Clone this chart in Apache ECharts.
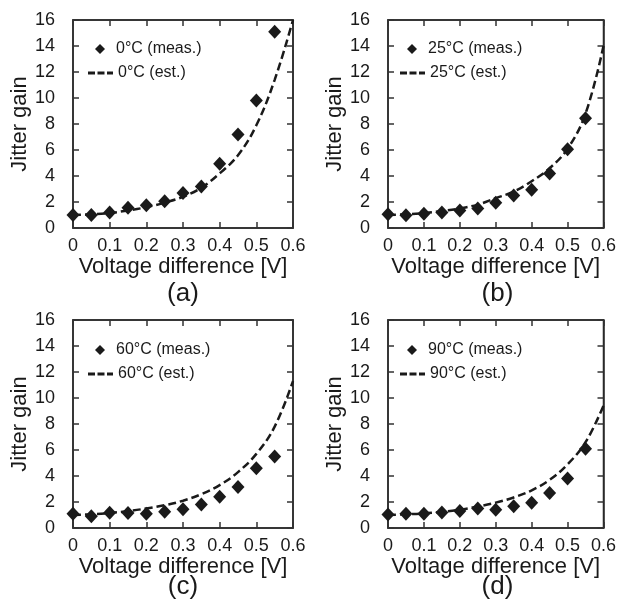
<!DOCTYPE html>
<html>
<head>
<meta charset="utf-8">
<script src="https://cdn.jsdelivr.net/npm/echarts@6/dist/echarts.min.js"></script>
<style>
  html, body { margin: 0; padding: 0; background: #fff; }
  #chart { width: 619px; height: 606px; }
</style>
</head>
<body>
<div id="chart"></div>
<script>
// voltage difference [V]
const measVoltages = [0, 0.05, 0.1, 0.15, 0.2, 0.25, 0.3, 0.35, 0.4, 0.45, 0.5, 0.55];
const estVoltages = [0, 0.05, 0.1, 0.15, 0.2, 0.25, 0.3, 0.35, 0.4, 0.45, 0.5, 0.55, 0.6];

// jitter gain
const meas0 = [1.0, 1.0, 1.2, 1.55, 1.75, 2.05, 2.7, 3.2, 4.95, 7.2, 9.8, 15.1];
const est0 = [1.0, 1.05, 1.15, 1.35, 1.6, 1.95, 2.4, 3.1, 4.2, 5.6, 7.9, 11.4, 16.0];
const meas25 = [1.05, 0.98, 1.1, 1.2, 1.35, 1.5, 1.95, 2.5, 2.95, 4.2, 6.05, 8.45];
const est25 = [1.0, 1.05, 1.15, 1.3, 1.5, 1.8, 2.3, 2.8, 3.6, 4.6, 6.1, 8.8, 14.0];
const meas60 = [1.1, 0.9, 1.18, 1.15, 1.1, 1.25, 1.45, 1.8, 2.4, 3.15, 4.6, 5.5];
const est60 = [1.0, 1.05, 1.15, 1.3, 1.5, 1.75, 2.1, 2.6, 3.3, 4.3, 5.7, 7.8, 11.3];
const meas90 = [1.03, 1.1, 1.1, 1.2, 1.3, 1.5, 1.4, 1.67, 1.95, 2.7, 3.8, 6.1];
const est90 = [1.0, 1.05, 1.12, 1.25, 1.4, 1.65, 1.95, 2.35, 2.9, 3.7, 4.9, 6.6, 9.4];

const temps = ["0", "25", "60", "90"];
const captions = ["(a)", "(b)", "(c)", "(d)"];
const yTicks = { min: 0, max: 16, interval: 2 };
const xTicks = { min: 0, max: 0.6, interval: 0.1 };

const measList = [meas0, meas25, meas60, meas90];
const estList = [est0, est25, est60, est90];

const ink = "#1a1a1a";
const font = "Liberation Sans";

// plot boxes in pixels
const boxes = [
  { left: 73, top: 20, width: 220, height: 208 },
  { left: 388, top: 20, width: 219, height: 208 },
  { left: 73, top: 320, width: 220, height: 208 },
  { left: 388, top: 320, width: 219, height: 208 },
];
const captionTops = [276, 276, 569, 569];

function axisLine() {
  return { show: true, onZero: false, lineStyle: { color: "#2a2a2a", width: 1.5 } };
}
function axisTick() {
  return { show: true, inside: true, length: 6, lineStyle: { color: "#333333", width: 1.5 } };
}

const grid = [], xAxis = [], yAxis = [], series = [], legend = [], title = [];

boxes.forEach((b, i) => {
  grid.push({
    left: b.left, top: b.top, width: b.width, height: b.height,
    show: true, borderColor: "#2a2a2a", borderWidth: 1.5, backgroundColor: "transparent",
  });

  xAxis.push({
    gridIndex: i, type: "value", min: xTicks.min, max: xTicks.max, interval: xTicks.interval,
    position: "bottom",
    axisLine: axisLine(), axisTick: axisTick(), splitLine: { show: false },
    axisLabel: { color: ink, fontSize: 18, fontFamily: font, margin: 9 },
    name: "Voltage difference [V]", nameLocation: "middle", nameGap: 25,
    nameTextStyle: { color: ink, fontSize: 22, fontFamily: font },
  });
  xAxis.push({
    gridIndex: i, type: "value", min: xTicks.min, max: xTicks.max, interval: xTicks.interval,
    position: "top", show: true,
    axisLine: axisLine(), axisTick: axisTick(), splitLine: { show: false },
    axisLabel: { show: false },
  });
  yAxis.push({
    gridIndex: i, type: "value", min: yTicks.min, max: yTicks.max, interval: yTicks.interval,
    position: "left",
    axisLine: axisLine(), axisTick: axisTick(), splitLine: { show: false },
    axisLabel: { color: ink, fontSize: 18, fontFamily: font, margin: 18 },
    name: "Jitter gain", nameLocation: "middle", nameGap: 42,
    nameTextStyle: { color: ink, fontSize: 22, fontFamily: font },
  });
  yAxis.push({
    gridIndex: i, type: "value", min: yTicks.min, max: yTicks.max, interval: yTicks.interval,
    position: "right", show: true,
    axisLine: axisLine(), axisTick: axisTick(), splitLine: { show: false },
    axisLabel: { show: false },
  });

  const measName = temps[i] + "°C (meas.)";
  const estName = temps[i] + "°C (est.)";

  series.push({
    name: estName, type: "line", xAxisIndex: 2 * i, yAxisIndex: 2 * i,
    data: estVoltages.map((v, k) => [v, estList[i][k]]),
    smooth: 0.4, symbol: "none", clip: true,
    lineStyle: { color: ink, width: 2.5, type: [8, 4] },
    z: 2,
  });
  series.push({
    name: measName, type: "scatter", xAxisIndex: 2 * i, yAxisIndex: 2 * i,
    data: measVoltages.map((v, k) => [v, measList[i][k]]),
    symbol: "diamond", symbolSize: [13, 14],
    itemStyle: { color: ink, opacity: 1 },
    z: 3,
  });

  const dx = i % 2 === 0 ? 0 : 312;
  const dy = i < 2 ? 0 : 301;
  legend.push({
    data: [{ name: measName, icon: "diamond" }],
    left: 95 + dx, top: 41 + dy, padding: 0,
    itemWidth: 10, itemHeight: 10, selectedMode: false,
    itemStyle: { color: ink, opacity: 1 },
    textStyle: { color: ink, fontSize: 16, fontFamily: font, padding: [0, 0, 0, 6] },
  });
  legend.push({
    data: [{ name: estName, icon: "path://M0,0h7v3h-7z M9.5,0h7v3h-7z M19,0h6v3h-6z" }],
    left: 88 + dx, top: 65 + dy, padding: 0,
    itemWidth: 25, itemHeight: 3, selectedMode: false,
    itemStyle: { color: ink, opacity: 1 },
    lineStyle: { opacity: 0 },
    textStyle: { color: ink, fontSize: 16, fontFamily: font, padding: [0, 0, 0, 0] },
  });

  title.push({
    text: captions[i],
    left: b.left + b.width / 2 - 5, top: captionTops[i], textAlign: "center",
    textStyle: { color: ink, fontSize: 26, fontWeight: "normal", fontFamily: font },
  });
});

const myChart = echarts.init(document.getElementById("chart"), null, { renderer: "canvas" });
myChart.setOption({
  backgroundColor: "#ffffff",
  animation: false,
  title: title,
  legend: legend,
  grid: grid,
  xAxis: xAxis,
  yAxis: yAxis,
  series: series,
});
</script>
</body>
</html>
